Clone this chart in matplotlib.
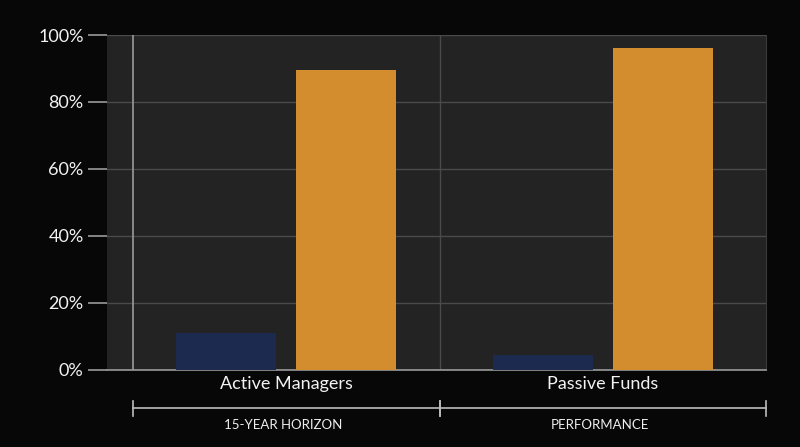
import numpy as np
import matplotlib.pyplot as plt
import matplotlib.transforms as mtransforms

categories = ['Active Managers', 'Passive Funds']
blue_vals = [11.0, 4.5]
orange_vals = [89.5, 96.0]
groups = ['15-YEAR HORIZON', 'PERFORMANCE']
group_edges = [(-0.4826, 0.4858), (0.4858, 1.514)]

plt.rcParams['font.family'] = ['Lato', 'DejaVu Sans']

fig = plt.figure(figsize=(8, 4.47), dpi=100, facecolor='#070707')
ax = fig.add_axes([0.134, 0.1723, 0.8235, 0.7494])
ax.set_facecolor('#232323')

x = np.arange(len(categories))
w = 0.3155
off = 0.189
ax.bar(x - off, blue_vals, w, color='#1b2a4e', zorder=3)
ax.bar(x + off, orange_vals, w, color='#d38d2e', zorder=3)

ax.set_xlim(-0.5647, 1.514)
ax.set_ylim(0, 100)
ax.set_yticks(np.arange(0, 101, 20))
ax.set_yticklabels([f'{v}%' for v in range(0, 101, 20)])
ax.set_xticks(x)
ax.set_xticklabels(categories)
ax.tick_params(axis='y', colors='#9a9a9a', labelcolor='#f2f2f2', labelsize=13,
               length=14, width=1.2, pad=3)
ax.tick_params(axis='x', length=0, labelcolor='#f2f2f2', labelsize=13, pad=4)
ax.grid(axis='y', color='#4a4a4a', linewidth=1, zorder=1)
ax.axvline(group_edges[0][0], color='#9a9a9a', linewidth=1.2, zorder=2)
ax.axvline(group_edges[1][0], color='#4a4a4a', linewidth=1, zorder=1)

for s in ['top', 'left']:
    ax.spines[s].set_visible(False)
ax.spines['right'].set_color('#3a3a3a')
ax.spines['bottom'].set_color('#9a9a9a')
ax.spines['bottom'].set_linewidth(1.2)

# group brackets under the axis
trans = mtransforms.blended_transform_factory(ax.transData, ax.transAxes)
yb = -38 / 335
for label, (a, b) in zip(groups, group_edges):
    ax.plot([a, b], [yb, yb], color='#bdbdbd', lw=1.2, transform=trans, clip_on=False)
    for e in (a, b):
        ax.plot([e, e], [yb - 8 / 335, yb + 7 / 335], color='#bdbdbd', lw=1.2,
                transform=trans, clip_on=False)
    ax.text((a + b) / 2 - 0.01, yb - 17 / 335, label, transform=trans, ha='center',
            va='center', color='#eeeeee', fontsize=9.5)

fig.savefig('out.png', dpi=100, facecolor=fig.get_facecolor())
